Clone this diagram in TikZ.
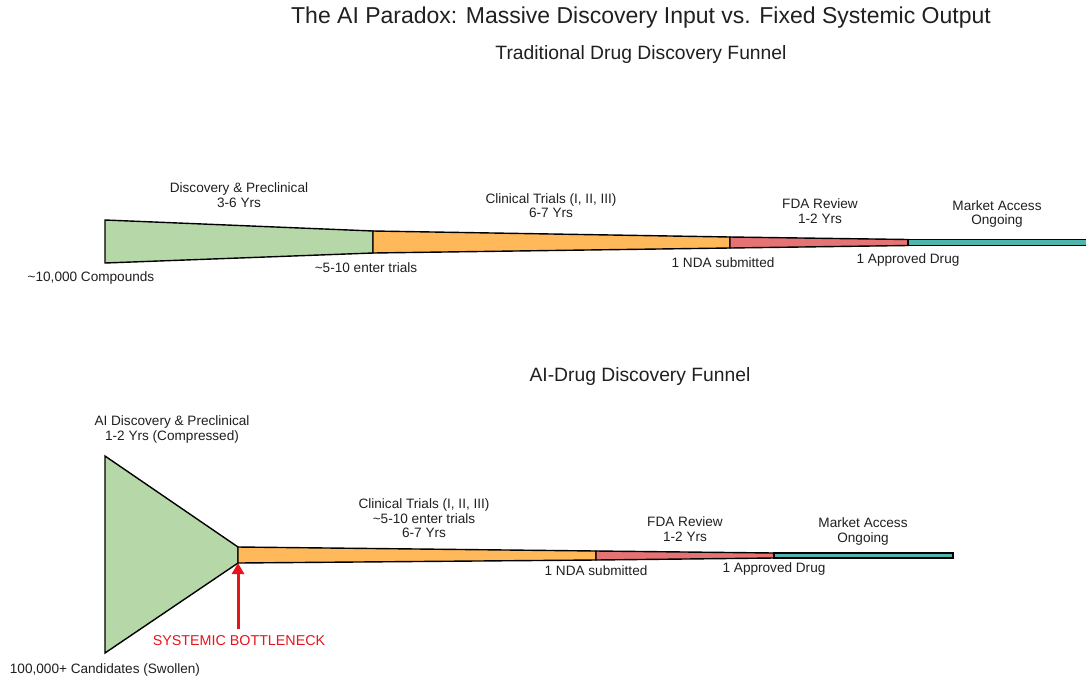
\documentclass[tikz,border=0pt]{standalone}
\usepackage{fontspec}
\setmainfont{Liberation Sans}
\usetikzlibrary{arrows.meta}
\definecolor{fgreen}{HTML}{B6D7A8}
\definecolor{forange}{HTML}{FFB95A}
\definecolor{fred}{HTML}{E57373}
\definecolor{fteal}{HTML}{4DB6AC}
\definecolor{txt}{HTML}{202020}
\definecolor{bneck}{HTML}{E8141C}
\tikzset{
  seg/.style={draw=black, line width=1.4pt, line join=miter},
  lbl/.style={font=\fontsize{13.6}{14.5}\selectfont, text=txt, align=center, inner sep=0pt},
  ttl/.style={font=\fontsize{23}{26}\selectfont, text=txt, inner sep=0pt},
  sub/.style={font=\fontsize{19.3}{22}\selectfont, text=txt, inner sep=0pt},
}
\begin{document}
\begin{tikzpicture}[x=1pt,y=-1pt]
\useasboundingbox (0,0) rectangle (1086,678);
\fill[white] (0,0) rectangle (1086,678);
% titles
\node[ttl] (title) at (641,18) {The AI Paradox: Massive Discovery Input vs. Fixed Systemic Output};
\node[sub] (subA) at (641,55) {Traditional Drug Discovery Funnel};
\node[sub] (subB) at (640,377) {AI-Drug Discovery Funnel};
% top funnel
\coordinate (a1) at (105,220); \coordinate (a2) at (105,263);
\coordinate (b1) at (373,231); \coordinate (b2) at (373,253);
\coordinate (c1) at (730,237); \coordinate (c2) at (730,248);
\coordinate (d1) at (908,239.5); \coordinate (d2) at (908,245.5);
\coordinate (e1) at (1094,239.5); \coordinate (e2) at (1094,245.5);
\filldraw[seg, fill=fgreen] (a1) -- (b1) -- (b2) -- (a2) -- cycle;
\filldraw[seg, fill=forange] (b1) -- (c1) -- (c2) -- (b2) -- cycle;
\filldraw[seg, fill=fred] (c1) -- (d1) -- (d2) -- (c2) -- cycle;
\filldraw[seg, fill=fteal] (d1) -- (e1) -- (e2) -- (d2) -- cycle;
\node[lbl] (tdisc) at (239,195) {Discovery \& Preclinical\\3-6 Yrs};
\node[lbl] (tcomp) at (91,278) {\textasciitilde10,000 Compounds};
\node[lbl] (tenter) at (366,268) {\textasciitilde5-10 enter trials};
\node[lbl] (tct) at (551,205.5) {Clinical Trials (I, II, III)\\6-7 Yrs};
\node[lbl] (tnda) at (723,263) {1 NDA submitted};
\node[lbl] (tfda) at (820,211) {FDA Review\\1-2 Yrs};
\node[lbl] (tappr) at (908,260) {1 Approved Drug};
\node[lbl] (tmkt) at (997,214) {Market Access\\Ongoing};
% bottom funnel
\coordinate (p1) at (105,456); \coordinate (p2) at (105,653);
\coordinate (q1) at (238,547); \coordinate (q2) at (238,563);
\coordinate (r1) at (596,551); \coordinate (r2) at (596,560);
\coordinate (s1) at (774,553); \coordinate (s2) at (774,558);
\coordinate (u1) at (953,553); \coordinate (u2) at (953,558);
\filldraw[seg, fill=fgreen] (p1) -- (q1) -- (q2) -- (p2) -- cycle;
\filldraw[seg, fill=forange] (q1) -- (r1) -- (r2) -- (q2) -- cycle;
\filldraw[seg, fill=fred] (r1) -- (s1) -- (s2) -- (r2) -- cycle;
\filldraw[seg, fill=fteal] (s1) -- (u1) -- (u2) -- (s2) -- cycle;
\node[lbl] (bdisc) at (172,429.5) {AI Discovery \& Preclinical\\1-2 Yrs (Compressed)};
\node[lbl] (bcand) at (105,670) {100,000+ Candidates (Swollen)};
\node[lbl] (bct) at (424,518.5) {Clinical Trials (I, II, III)\\\textasciitilde5-10 enter trials\\6-7 Yrs};
\node[lbl] (bnda) at (596,571) {1 NDA submitted};
\node[lbl] (bfda) at (685,529) {FDA Review\\1-2 Yrs};
\node[lbl] (bappr) at (774,569) {1 Approved Drug};
\node[lbl] (bmkt) at (863,531.5) {Market Access\\Ongoing};
% bottleneck arrow
\coordinate (arrbase) at (238,629);
\draw[bneck, line width=3pt, -{Triangle[width=12pt,length=11pt]}] (arrbase) -- (q2);
\node[font=\fontsize{14.3}{16}\selectfont, text=bneck, inner sep=0pt] (bneckl) at (239,641) {SYSTEMIC BOTTLENECK};
\end{tikzpicture}
\end{document}
